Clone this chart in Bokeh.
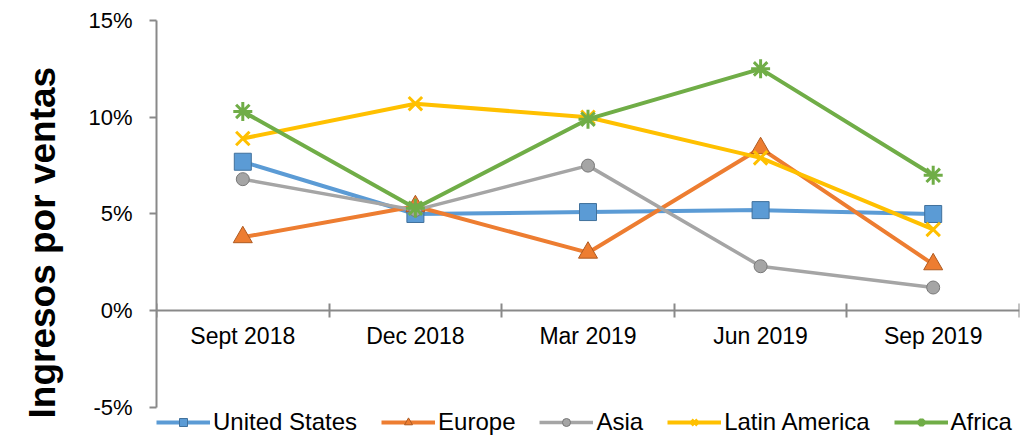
from bokeh.plotting import figure
from bokeh.models import (LinearAxis, FixedTicker, PrintfTickFormatter, Legend,
                          LegendItem, Title, CustomJSTickFormatter)
from bokeh.embed import file_html
from bokeh.resources import INLINE

categories = ["Sept 2018", "Dec 2018", "Mar 2019", "Jun 2019", "Sep 2019"]
united_states = [7.7, 5.0, 5.1, 5.2, 5.0]
europe = [3.8, 5.4, 3.0, 8.4, 2.4]
asia = [6.8, 5.2, 7.5, 2.3, 1.2]
latin_america = [8.9, 10.7, 10.0, 7.9, 4.2]
africa = [10.3, 5.3, 9.9, 12.5, 7.0]
y_ticks = [-5, 0, 5, 10, 15]
y_label = "Ingresos por ventas"

FONT = "Liberation Sans"
AXIS_COLOR = "#898989"

n = len(categories)
xc = [i + 0.5 for i in range(n)]

p = figure(width=1026, height=436, x_range=(0, n), y_range=(-6.5, 15),
           output_backend="svg", toolbar_location=None, x_axis_location=None,
           min_border_left=155, min_border_right=7, min_border_top=20,
           min_border_bottom=0)
p.grid.visible = False
p.outline_line_color = None

yaxis = p.yaxis[0]
yaxis.bounds = (y_ticks[0], y_ticks[-1])
yaxis.ticker = FixedTicker(ticks=y_ticks)
yaxis.formatter = PrintfTickFormatter(format="%d%%")
yaxis.minor_tick_line_color = None
yaxis.major_tick_in = 0
yaxis.major_tick_out = 7
yaxis.major_tick_line_color = AXIS_COLOR
yaxis.major_tick_line_width = 2
yaxis.axis_line_color = AXIS_COLOR
yaxis.axis_line_width = 2
yaxis.major_label_text_font = FONT
yaxis.major_label_text_font_size = "22px"
yaxis.major_label_text_color = "black"
yaxis.major_label_standoff = 17

xaxis = LinearAxis(
    fixed_location=0,
    ticker=FixedTicker(ticks=xc, minor_ticks=list(range(n + 1))),
    formatter=CustomJSTickFormatter(args=dict(labels=categories),
                                    code="return labels[Math.floor(tick)];"),
    major_tick_in=0, major_tick_out=0, major_tick_line_color=None,
    minor_tick_in=7, minor_tick_out=7,
    minor_tick_line_color=AXIS_COLOR, minor_tick_line_width=2,
    axis_line_color=AXIS_COLOR, axis_line_width=2,
    major_label_text_font=FONT, major_label_text_font_size="23px",
    major_label_text_color="black", major_label_standoff=5)
p.add_layout(xaxis, "below")

series = [
    ("United States", united_states, "#5B9BD5", "square", 17, "#41719C", 4, 1, "#5B9BD5"),
    ("Europe", europe, "#ED7D31", "triangle", 19, "#AE5A21", 4, 1, "#ED7D31"),
    ("Asia", asia, "#A5A5A5", "circle", 13, "#787878", 3.5, 1, "#A5A5A5"),
    ("Latin America", latin_america, "#FFC000", "x", 19, "#FFC000", 4, 3, None),
    ("Africa", africa, "#70AD47", "asterisk", 19, "#70AD47", 4, 3, None),
]

items = []
for name, vals, color, marker, size, edge, lw, mlw, fill in series:
    lr = p.line(xc, vals, line_color=color, line_width=lw)
    sr = p.scatter(xc, vals, marker=marker, size=size, line_color=edge,
                   line_width=mlw, fill_color=fill)
    items.append(LegendItem(label=name, renderers=[lr, sr]))

legend = Legend(items=items, orientation="horizontal", location=(0, 0),
                label_text_font=FONT, label_text_font_size="24px",
                label_text_color="black", glyph_width=54, glyph_height=20,
                label_height=20, label_standoff=3, spacing=24, padding=0,
                margin=0, border_line_color=None, background_fill_alpha=0)
p.add_layout(legend, "center")

title = Title(text=y_label, align="left", vertical_align="top", offset=18,
              standoff=42, text_font=FONT, text_font_size="37px",
              text_font_style="bold", text_color="black")
p.add_layout(title, "left")

open("out.html", "w").write(file_html(p, INLINE))
